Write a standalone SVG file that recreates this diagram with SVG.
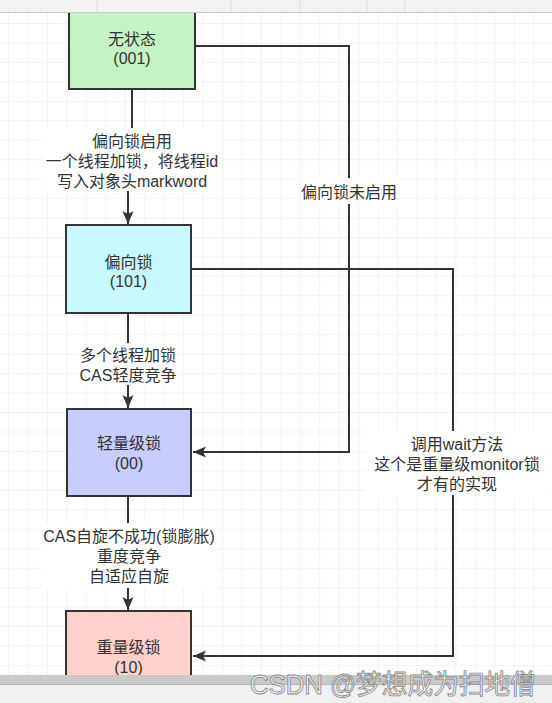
<svg xmlns="http://www.w3.org/2000/svg" width="552" height="703" viewBox="0 0 552 703">
<style>
.t{font-family:"Liberation Sans","Noto Sans CJK SC",sans-serif;font-size:16px;fill:#333;text-anchor:middle}
.n{stroke:#333;stroke-width:2}
.e{fill:none;stroke:#333;stroke-width:2}
.lb{fill:#fff}
</style>
<defs>
<pattern id="grid" patternUnits="userSpaceOnUse" x="8.1" y="3.6" width="19.45" height="19.45">
<path d="M0 0H19.45M0 0V19.45" fill="none" stroke="#e6e6e6" stroke-width="1"/>
</pattern>
<marker id="arr" markerUnits="userSpaceOnUse" markerWidth="14" markerHeight="12" refX="13" refY="6" orient="auto">
<path d="M0 0.5L13 6L0 11.5L3 6Z" fill="#333"/>
</marker>
</defs>
<rect width="552" height="703" fill="#fff"/>
<rect width="552" height="703" fill="url(#grid)"/>
<g id="connectors">
<path class="e" d="M132 89V160H128V224" marker-end="url(#arr)"/>
<path class="e" d="M195 46H349V452H193" marker-end="url(#arr)"/>
<path class="e" d="M191 269H453V656H193" marker-end="url(#arr)"/>
<path class="e" d="M128 313V408" marker-end="url(#arr)"/>
<path class="e" d="M128 496V610" marker-end="url(#arr)"/>
<g id="label-e1">
<rect class="lb" x="44" y="128" width="178" height="63"/>
<text class="t" x="132" y="147">偏向锁启用</text>
<text class="t" x="132" y="167">一个线程加锁，将线程id</text>
<text class="t" x="132" y="187">写入对象头markword</text>
</g>
<g id="label-e2">
<rect class="lb" x="301" y="178" width="97" height="26"/>
<text class="t" x="349" y="198">偏向锁未启用</text>
</g>
<g id="label-e3">
<rect class="lb" x="365" y="431" width="186" height="64"/>
<text class="t" x="457" y="450">调用wait方法</text>
<text class="t" x="457" y="470">这个是重量级monitor锁</text>
<text class="t" x="457" y="490">才有的实现</text>
</g>
<g id="label-e4">
<rect class="lb" x="78" y="343" width="100" height="42"/>
<text class="t" x="128" y="361">多个线程加锁</text>
<text class="t" x="128" y="381">CAS轻度竞争</text>
</g>
<g id="label-e5">
<rect class="lb" x="42" y="523" width="175" height="65"/>
<text class="t" x="129" y="542">CAS自旋不成功(锁膨胀)</text>
<text class="t" x="129" y="562">重度竞争</text>
<text class="t" x="129" y="582">自适应自旋</text>
</g>
</g>
<g id="node-none">
<rect class="n" x="69" y="-10" width="126" height="99" fill="#c6f3c6"/>
<text class="t" x="132" y="45">无状态</text>
<text class="t" x="132" y="64">(001)</text>
</g>
<g id="node-biased">
<rect class="n" x="66" y="225" width="125" height="88" fill="#c6f8fc"/>
<text class="t" x="128.5" y="268">偏向锁</text>
<text class="t" x="128.5" y="287">(101)</text>
</g>
<g id="node-light">
<rect class="n" x="67" y="409" width="124" height="87" fill="#c8ccff"/>
<text class="t" x="129" y="449">轻量级锁</text>
<text class="t" x="129" y="469">(00)</text>
</g>
<g id="node-heavy">
<rect class="n" x="66" y="611" width="125" height="80" fill="#ffd0cc"/>
<text class="t" x="128.5" y="653">重量级锁</text>
<text class="t" x="128.5" y="673">(10)</text>
</g>
<g id="topbar">
<rect x="0" y="0" width="552" height="12" fill="#f2f2f2"/>
<path d="M0 12.5H552" stroke="#c8c8c8" stroke-width="1"/>
<path d="M97 0V12M231 0V12M300 0V12M367 0V12M405 0V12" stroke="#dcdcdc" stroke-width="1"/>
</g>
<g id="bottombar">
<rect x="0" y="675" width="552" height="9" fill="#c9c9c9"/>
<rect x="0" y="684" width="552" height="19" fill="#f0f0f0"/>
<path d="M0 684.5H552" stroke="#b5b5b5" stroke-width="1"/>
</g>
<text x="250" y="694" textLength="286" lengthAdjust="spacingAndGlyphs" font-family="'Liberation Sans','Noto Sans CJK SC',sans-serif" font-size="27" fill="#fafafa" fill-opacity="0.85" stroke="#8a8a8a" stroke-width="0.9">CSDN @梦想成为扫地僧</text>
</svg>
